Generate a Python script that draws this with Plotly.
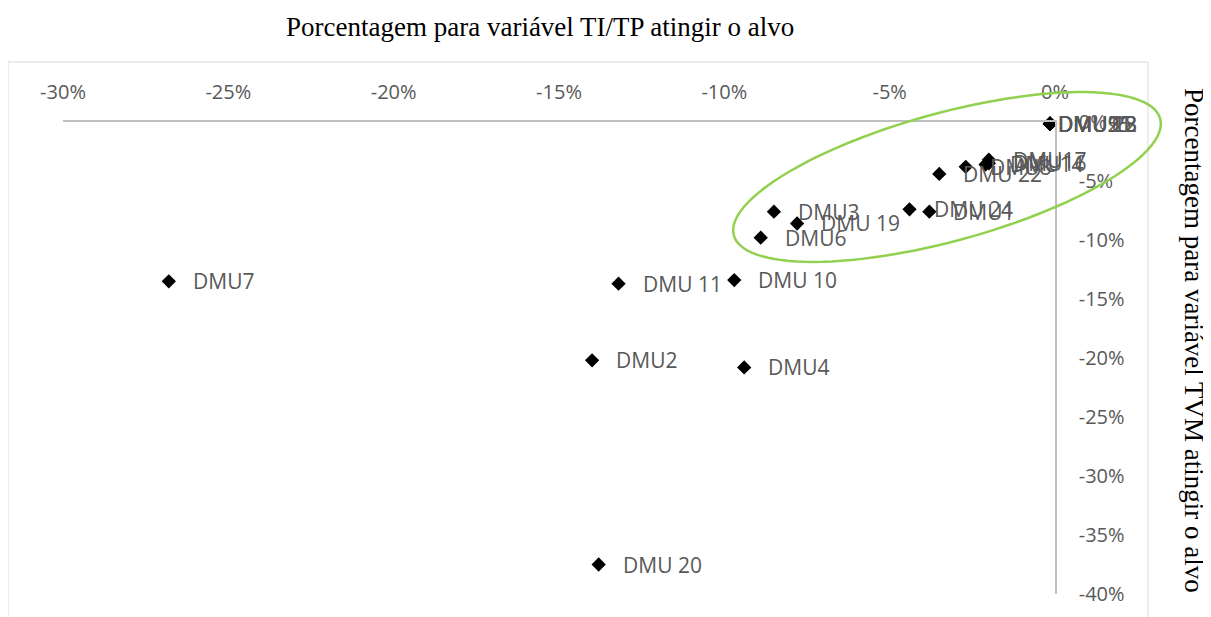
import numpy as np
import plotly.graph_objects as go

# Data: percentage for each variable to reach the target (in %)
dmu_labels = ["DMU7", "DMU 11", "DMU 10", "DMU2", "DMU4", "DMU 20",
              "DMU3", "DMU 19", "DMU6", "DMU 24", "DMU1", "DMU 22",
              "DMU8", "DMU14", "DMU16", "DMU17",
              "DMU5", "DMU9", "DMU 12", "DMU 13", "DMU15", "DMU 18", "DMU21", "DMU 23"]
ti_tp = [-26.8, -13.2, -9.7, -14.0, -9.4, -13.8,
         -8.5, -7.8, -8.9, -4.4, -3.8, -3.5,
         -2.7, -2.1, -2.0, -2.0,
         -0.15, -0.15, -0.15, -0.15, -0.15, -0.15, -0.15, -0.15]
tvm = [-13.5, -13.7, -13.4, -20.2, -20.8, -37.5,
       -7.6, -8.6, -9.8, -7.4, -7.6, -4.4,
       -3.8, -3.6, -3.5, -3.2,
       -0.15, -0.15, -0.15, -0.15, -0.15, -0.15, -0.15, -0.15]

x_ticks = [-30, -25, -20, -15, -10, -5, 0]
x_ticktext = ["-30%", "-25%", "-20%", "-15%", "-10%", "-5%", "0%"]
y_ticks = [-40, -35, -30, -25, -20, -15, -10, -5, 0]
y_ticktext = ["-40%", "-35%", "-30%", "-25%", "-20%", "-15%", "-10%", "-5%", "0%"]
x_title = "Porcentagem para variável TI/TP atingir o alvo"
y_title = "Porcentagem para variável TVM atingir o alvo"

OFF = 8  # page body margin
W, H = 1211 - OFF, 617 - OFF
ML, MT = 63 - OFF, 122 - OFF
PR, PB = 1055 - OFF, 594 - OFF
MR, MB = W - PR, H - PB
PW, PH = PR - ML, PB - MT

def px_to_paper(px, py):
    px, py = px - OFF, py - OFF
    return (px - ML) / PW, (PB - py) / PH

fig = go.Figure()
fig.add_trace(go.Scatter(
    x=ti_tp, y=tvm, mode="markers",
    marker=dict(symbol="diamond", size=11, color="black"),
    cliponaxis=False, showlegend=False, hoverinfo="text", text=dmu_labels))

annotations = []
for lab, xv, yv in zip(dmu_labels, ti_tp, tvm):
    shift = 6 if xv > -1 else 22
    annotations.append(dict(x=xv, y=yv, xref="x", yref="y", text=lab, showarrow=False,
                            xanchor="left", yanchor="middle", xshift=shift,
                            font=dict(family="Open Sans", size=21, color="#595959")))

tx, ty = px_to_paper(540, 27)
annotations.append(dict(x=tx, y=ty, xref="paper", yref="paper", text=x_title, showarrow=False,
                        xanchor="center", yanchor="middle",
                        font=dict(family="Liberation Serif", size=27, color="black")))
rx, ry = px_to_paper(1194, 340)
annotations.append(dict(x=rx, y=ry, xref="paper", yref="paper", text=y_title, showarrow=False,
                        textangle=90, xanchor="center", yanchor="middle",
                        font=dict(family="Liberation Serif", size=27, color="black")))

# highlight ellipse (pixel geometry -> paper coords)
cx, cy, a, b, ang = 947, 177, 221, 64, np.deg2rad(-15.3)
t = np.linspace(0, 2 * np.pi, 120)
ex = cx + a * np.cos(t) * np.cos(ang) - b * np.sin(t) * np.sin(ang)
ey = cy + a * np.cos(t) * np.sin(ang) + b * np.sin(t) * np.cos(ang)
pts = [px_to_paper(u, v) for u, v in zip(ex, ey)]
path = "M " + " L ".join(f"{u:.5f},{v:.5f}" for u, v in pts) + " Z"

fx0, fy0 = px_to_paper(8, 62)
fx1, fy1 = px_to_paper(1148, 640)
shapes = [
    dict(type="rect", xref="paper", yref="paper", x0=fx0, y0=fy1, x1=fx1, y1=fy0,
         line=dict(color="#D9D9D9", width=1), layer="below"),
    dict(type="path", xref="paper", yref="paper", path=path,
         line=dict(color="#92D050", width=2.5)),
]

fig.update_layout(
    width=W, height=H, margin=dict(l=ML, r=MR, t=MT, b=MB, autoexpand=False),
    paper_bgcolor="white", plot_bgcolor="white",
    annotations=annotations, shapes=shapes,
    xaxis=dict(range=[-30, 0], side="top", tickvals=x_ticks, ticktext=x_ticktext,
               showgrid=False, zeroline=False, showline=True, linecolor="#BFBFBF",
               linewidth=1.5, ticks="", ticklabelstandoff=13,
               tickfont=dict(family="Open Sans", size=20, color="#595959")),
    yaxis=dict(range=[-40, 0], side="right", tickvals=y_ticks, ticktext=y_ticktext,
               showgrid=False, zeroline=False, showline=True, linecolor="#BFBFBF",
               linewidth=1.5, ticks="", ticklabelstandoff=18,
               tickfont=dict(family="Open Sans", size=20, color="#595959")),
)

fig.write_html("out.html")
